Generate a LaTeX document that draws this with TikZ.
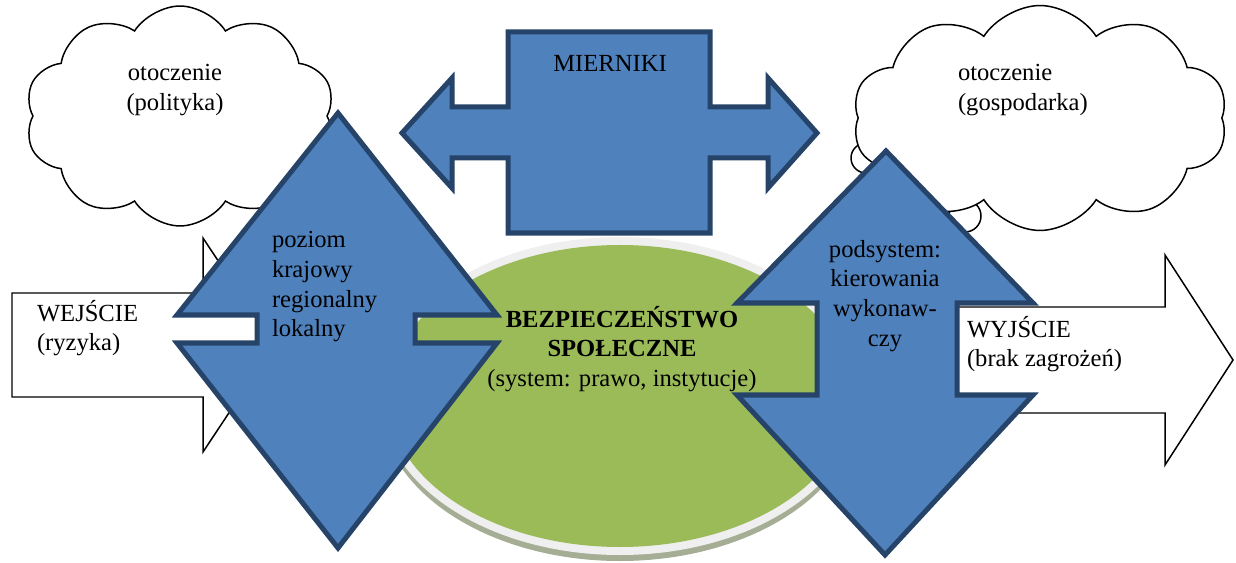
\documentclass[tikz,border=0pt]{standalone}
\usepackage{fontspec}
\setmainfont{Liberation Serif}
\usetikzlibrary{shapes.symbols}
\definecolor{shapeblue}{HTML}{4F81BD}
\definecolor{shapeline}{HTML}{264469}
\definecolor{fieldgreen}{HTML}{9BBB59}
\definecolor{rimgray}{HTML}{EFEFEF}
\definecolor{shadowgray}{HTML}{A5AE94}

\begin{document}
\begin{tikzpicture}[x=0.02cm, y=-0.02cm]
\tikzset{ inner sep=0pt, outer sep=0pt,
  txt/.style={font=\fontsize{14}{17}\selectfont},
  bluearrow/.style={fill=shapeblue, draw=shapeline, line width=2.85pt, line join=miter},
  whitearrow/.style={fill=white, draw=black, line width=0.85pt},
  puff/.style={cloud, cloud puffs=10, cloud puff arc=115, fill=white, draw=black, line width=0.85pt},
}

\useasboundingbox (0,0) rectangle (1236,563);
%\draw [lightgray, dashed](0,0) grid[step=50] (1236,563);

% otoczenie
\node [puff, minimum width=6.2cm, minimum height=4.4cm] (CL) at (180,116) {};
\draw [fill=white, line width=0.85pt] (866,158) circle [radius=15];
\draw [fill=white, line width=0.85pt] (965,216) circle [radius=16];
\node [puff, minimum width=7.5cm, minimum height=4.5cm] (CR) at (1040,118) {};

% wejscie / wyjscie
\draw [whitearrow] (12,293) -- (203,293) -- (203,238) -- (274,345) -- (203,452) -- (203,397) -- (12,397) -- cycle;
\draw [whitearrow] (940,307) -- (1165,307) -- (1165,255) -- (1233,360) -- (1165,465) -- (1165,413) -- (940,413) -- cycle;

% system
\fill [shadowgray] (620,402) ellipse [x radius=240, y radius=159];
\fill [rimgray]    (620,396) ellipse [x radius=240, y radius=159];
\fill [fieldgreen] (620,396) ellipse [x radius=232, y radius=151];

% mierniki
\draw [bluearrow] (402,133) -- (452,78) -- (452,107) -- (508,107) -- (508,32) -- (710,32) -- (710,107)
  -- (768,107) -- (768,78) -- (817,133) -- (768,188) -- (768,158) -- (710,158) -- (710,233)
  -- (508,233) -- (508,158) -- (452,158) -- (452,188) -- cycle;

% poziomy, podsystem
\draw [bluearrow] (338,113) -- (497,315) -- (415,315) -- (415,343) -- (497,343) -- (338,548)
  -- (177,343) -- (257,343) -- (257,315) -- (177,315) -- cycle;
\draw [bluearrow] (886,151) -- (1033,303) -- (957,303) -- (957,395) -- (1033,395) -- (885,555)
  -- (737,395) -- (817,395) -- (817,303) -- (737,303) -- cycle;

\node [txt, align=center, anchor=north] (polityka) at (175,64) {otoczenie\\(polityka)};
\node [txt, align=left, anchor=north west] (gospodarka) at (958,64) {otoczenie\\(gospodarka)};
\node [txt, anchor=base] (mierniki) at (610,72) {MIERNIKI};
\node [txt, align=left, anchor=north west] (poziom) at (272,231) {poziom\\krajowy\\regionalny\\lokalny};
\node [txt, align=center, anchor=north] (podsystem) at (885,240) {podsystem:\\kierowania\\wykonaw-\\czy};
\node [txt, align=left, anchor=north west] (wejscie) at (37,300) {WEJŚCIE\\(ryzyka)};
\node [txt, align=left, anchor=north west] (wyjscie) at (967,316) {WYJŚCIE\\(brak zagrożeń)};
\node [txt, align=center, anchor=north] (bezp) at (622,306)
  {\textbf{BEZPIECZEŃSTWO}\\\textbf{SPOŁECZNE}\\(system: prawo, instytucje)};

\end{tikzpicture}
\end{document}
